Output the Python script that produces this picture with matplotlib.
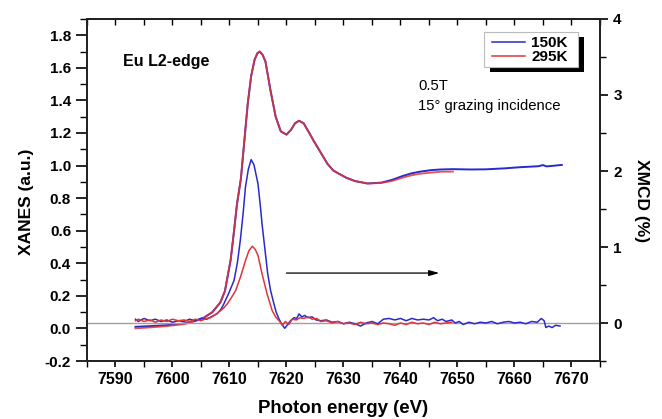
import matplotlib
matplotlib.use("Agg")
import matplotlib.pyplot as plt
from matplotlib.ticker import MultipleLocator, FormatStrFormatter
from matplotlib.patches import Rectangle

plt.rcParams['font.family'] = ['Liberation Sans', 'DejaVu Sans']
plt.rcParams['axes.unicode_minus'] = False

# ---- XANES (left axis, a.u.) ----
xanes_295_e = [7593.5, 7596, 7599, 7602, 7604, 7605.5, 7607, 7608.4, 7609.2, 7610.2, 7610.8,
               7611.3, 7612.0, 7612.6, 7613.2, 7613.8, 7614.4, 7614.9, 7615.3, 7615.8, 7616.3,
               7617.2, 7618.1, 7619.0, 7620.0, 7620.8, 7621.5, 7622.2, 7623.0, 7624.0, 7624.8,
               7626.0, 7627.2, 7628.2, 7629.2, 7630.5, 7632.0, 7634.2, 7636.6, 7638.5, 7640.3,
               7641.9, 7643.5, 7645.4, 7647.0, 7649.2]
xanes_295_v = [0.00, 0.006, 0.014, 0.026, 0.045, 0.065, 0.10, 0.16, 0.23, 0.42, 0.60,
               0.76, 0.92, 1.15, 1.38, 1.55, 1.65, 1.69, 1.70, 1.68, 1.64,
               1.46, 1.30, 1.21, 1.19, 1.22, 1.26, 1.275, 1.26, 1.20, 1.15,
               1.08, 1.01, 0.97, 0.95, 0.925, 0.905, 0.89, 0.893, 0.905, 0.925,
               0.94, 0.950, 0.957, 0.962, 0.963]

xanes_150_e = [7593.5, 7596, 7599, 7602, 7604, 7605.5, 7607, 7608.4, 7609.2, 7610.2, 7610.8,
               7611.3, 7612.0, 7612.6, 7613.2, 7613.8, 7614.4, 7614.9, 7615.3, 7615.8, 7616.3,
               7617.2, 7618.1, 7619.0, 7620.0, 7620.8, 7621.5, 7622.2, 7623.0, 7624.0, 7624.8,
               7626.0, 7627.2, 7628.2, 7629.2, 7630.5, 7632.0, 7634.2, 7636.6, 7638.5, 7640.3,
               7641.9, 7643.5, 7645.4, 7647.0, 7649.2, 7652.4, 7655.0, 7658.3, 7661.0, 7664.2,
               7665.0, 7665.6, 7666.3, 7668.3]
xanes_150_v = [0.01, 0.014, 0.02, 0.03, 0.047, 0.066, 0.10, 0.16, 0.23, 0.42, 0.60,
               0.76, 0.92, 1.15, 1.38, 1.55, 1.65, 1.69, 1.70, 1.68, 1.64,
               1.46, 1.30, 1.21, 1.19, 1.22, 1.26, 1.275, 1.26, 1.20, 1.15,
               1.08, 1.01, 0.97, 0.95, 0.925, 0.905, 0.89, 0.895, 0.912, 0.935,
               0.952, 0.963, 0.972, 0.976, 0.978, 0.976, 0.977, 0.983, 0.990, 0.996,
               1.003, 0.995, 0.997, 1.004]

# ---- XMCD (right axis, %) ----
xmcd_150_e = [7593.5, 7594, 7595, 7596, 7597, 7598, 7599, 7600, 7601, 7602, 7603, 7604, 7605,
              7606, 7607, 7607.8, 7608.5, 7609, 7609.8, 7610.8, 7611.4, 7611.9, 7612.4, 7612.8,
              7613.3, 7613.8, 7614.3, 7615.0, 7615.4, 7615.7, 7616.2, 7616.7, 7617.2, 7617.8,
              7618.2, 7618.7, 7619.2, 7619.7, 7620.2, 7620.7, 7621.3, 7621.8, 7622.2, 7622.7,
              7623.2, 7623.7, 7624.5, 7625.2, 7626, 7627, 7628, 7629, 7630, 7631, 7632, 7633,
              7634, 7635, 7636, 7637, 7638, 7639, 7640, 7641, 7642, 7643, 7644, 7645, 7645.8,
              7646.5, 7647.3, 7648, 7649, 7649.6, 7650.3, 7651, 7652, 7653, 7654, 7655, 7656,
              7657, 7658, 7659, 7660, 7661, 7662, 7663, 7664, 7664.7, 7665.2, 7665.5, 7666,
              7666.6, 7667.2, 7668]
xmcd_150_v = [0.05, 0.02, 0.06, 0.03, 0.05, 0.02, 0.04, 0.01, 0.03, 0.02, 0.05, 0.03, 0.06,
              0.05, 0.09, 0.12, 0.18, 0.25, 0.38, 0.56, 0.80, 1.09, 1.45, 1.79,
              2.02, 2.15, 2.08, 1.83, 1.55, 1.31, 0.98, 0.65, 0.43, 0.25,
              0.14, 0.05, -0.02, -0.07, -0.02, 0.03, 0.07, 0.06, 0.12, 0.08,
              0.10, 0.07, 0.08, 0.04, 0.03, 0.04, 0.01, 0.02, -0.01, 0.01, -0.01, -0.04,
              0.00, 0.02, -0.01, 0.05, 0.06, 0.04, 0.06, 0.03, 0.06, 0.04, 0.05, 0.04, 0.07,
              0.03, 0.05, 0.02, 0.04, 0.00, 0.02, -0.02, 0.01, -0.01, 0.01, 0.00, 0.02,
              -0.01, 0.01, 0.02, 0.00, 0.01, -0.01, 0.02, 0.01, 0.06, 0.03, -0.06, -0.04,
              -0.06, -0.03, -0.04]

xmcd_295_e = [7593.5, 7594, 7595, 7596, 7597, 7598, 7599, 7600, 7601, 7602, 7603, 7604, 7605,
              7606, 7606.7, 7607.5, 7608.4, 7609, 7609.6, 7610.3, 7611.1, 7611.9, 7612.4, 7612.8,
              7613.4, 7614.0, 7614.5, 7615.0, 7615.7, 7616.2, 7616.6, 7617.1, 7617.5, 7618.1,
              7618.7, 7619.3, 7619.8, 7620.4, 7621, 7621.7, 7622.4, 7623, 7623.8, 7624.5, 7625.3,
              7626, 7627, 7628, 7629, 7630, 7631, 7632, 7633, 7634, 7635, 7636, 7637, 7638,
              7639, 7640, 7641, 7642, 7643, 7644, 7645, 7646, 7647, 7648, 7649]
xmcd_295_v = [0.03, 0.05, 0.02, 0.04, 0.01, 0.04, 0.02, 0.05, 0.03, 0.04, 0.02, 0.05, 0.03,
              0.06, 0.07, 0.11, 0.16, 0.20, 0.25, 0.33, 0.43, 0.60, 0.72, 0.82,
              0.95, 1.01, 0.97, 0.89, 0.65, 0.50, 0.38, 0.26, 0.16, 0.08,
              0.03, -0.03, 0.02, -0.02, 0.05, 0.04, 0.07, 0.06, 0.08, 0.05, 0.06,
              0.02, 0.03, 0.00, 0.02, -0.01, 0.00, -0.02, 0.01, -0.01, 0.00, -0.02, 0.00, -0.01,
              -0.03, 0.00, -0.02, 0.01, -0.01, 0.00, -0.02, 0.01, -0.01, 0.00, 0.01]

labels = ['150K', '295K']
blue = '#2a2acc'
red = '#e03538'

W, H = 662, 419
fig = plt.figure(figsize=(W/100, H/100), dpi=100)
ax = fig.add_axes([87/W, 1-361/H, (600-87)/W, (361-19)/H])
ax2 = ax.twinx()

ax.plot(xanes_150_e, xanes_150_v, color=blue, lw=1.4)
ax.plot(xanes_295_e, xanes_295_v, color=red, lw=1.3, alpha=0.85)

ax2.axhline(0, color='#a0a0a0', lw=1.0, zorder=1)
l1, = ax2.plot(xmcd_150_e, xmcd_150_v, color=blue, lw=1.1, zorder=2)
l2, = ax2.plot(xmcd_295_e, xmcd_295_v, color=red, lw=1.1, zorder=3)

ax.set_xlim(7585, 7675)
ax.set_ylim(-0.2, 1.9)
ax2.set_ylim(-0.5, 4)

ax.xaxis.set_major_locator(MultipleLocator(10))
ax.xaxis.set_minor_locator(MultipleLocator(5))
ax.yaxis.set_major_locator(MultipleLocator(0.2))
ax.yaxis.set_minor_locator(MultipleLocator(0.1))
ax.yaxis.set_major_formatter(FormatStrFormatter('%.1f'))
ax2.yaxis.set_major_locator(MultipleLocator(1))
ax2.yaxis.set_minor_locator(MultipleLocator(0.5))

ax.tick_params(axis='x', which='major', direction='out', length=4, width=1.2, labelsize=11.5, pad=4)
ax.tick_params(axis='x', which='minor', direction='out', length=4, width=1.0)
ax.tick_params(axis='y', which='major', direction='out', length=8, width=1.2, labelsize=11)
ax.tick_params(axis='y', which='minor', direction='out', length=5, width=1.0)
ax2.tick_params(axis='y', which='major', direction='out', length=6, width=1.2, labelsize=11)
ax2.tick_params(axis='y', which='minor', direction='out', length=4, width=1.0)
for lab in ax.get_xticklabels() + ax.get_yticklabels() + ax2.get_yticklabels():
    lab.set_fontweight('bold')

sec = ax.secondary_xaxis('top')
sec.xaxis.set_major_locator(MultipleLocator(5))
sec.tick_params(axis='x', direction='in', length=4, width=1.0, labeltop=False)

for a in (ax, ax2):
    for s in a.spines.values():
        s.set_linewidth(1.3)
        s.set_color('#222222')
sec.spines['top'].set_linewidth(1.3)

ax.set_xlabel('Photon energy (eV)', fontsize=13.4, fontweight='bold', va='center')
ax.xaxis.set_label_coords(0.5, (361-408)/342)
ax.set_ylabel('XANES (a.u.)', fontsize=12.5, fontweight='bold')
ax.yaxis.set_label_coords(-0.103, 0.465)
ax2.set_ylabel('XMCD (%)', fontsize=12.5, fontweight='bold', rotation=270, va='center')
ax2.yaxis.set_label_coords(1.08, 0.47)

ax.text(7591.3, 1.637, 'Eu L2-edge', fontsize=11.5, fontweight='bold', va='center', ha='left')
ax.text(7643.1, 1.49, '0.5T', fontsize=10.7, va='center', ha='left')
ax.text(7643.1, 1.368, '15° grazing incidence', fontsize=10.7, va='center', ha='left')

ax.annotate('', xy=(7647.3, 0.34), xytext=(7619.5, 0.34),
            arrowprops=dict(arrowstyle='-|>,head_length=0.6,head_width=0.17', color='black', lw=0.9))

# legend frame with black drop shadow (pixel positions from reference)
fx0, fx1, fy0, fy1 = 484, 578, 31.7, 67.5
shadow = Rectangle(((fx0 + 6)/W, 1 - (fy1 + 5)/H), (fx1 - fx0)/W, (fy1 - fy0)/H,
                   transform=fig.transFigure, facecolor='black', edgecolor='none',
                   zorder=8.8, clip_on=False)
frame = Rectangle((fx0/W, 1 - fy1/H), (fx1 - fx0)/W, (fy1 - fy0)/H,
                  transform=fig.transFigure, facecolor='white', edgecolor='#bbbbbb',
                  lw=0.8, zorder=8.9, clip_on=False)
ax2.add_artist(shadow)
ax2.add_artist(frame)

leg = ax2.legend([l1, l2], labels, loc='upper right', bbox_to_anchor=(568/W, 1 - 36/H),
                 bbox_transform=fig.transFigure, frameon=False,
                 prop=dict(size=11, weight='bold'), handlelength=2.2,
                 borderpad=0, labelspacing=0.0, handletextpad=0.4, borderaxespad=0)
leg.set_zorder(10)

fig.savefig('out.png', dpi=100, facecolor='white')
